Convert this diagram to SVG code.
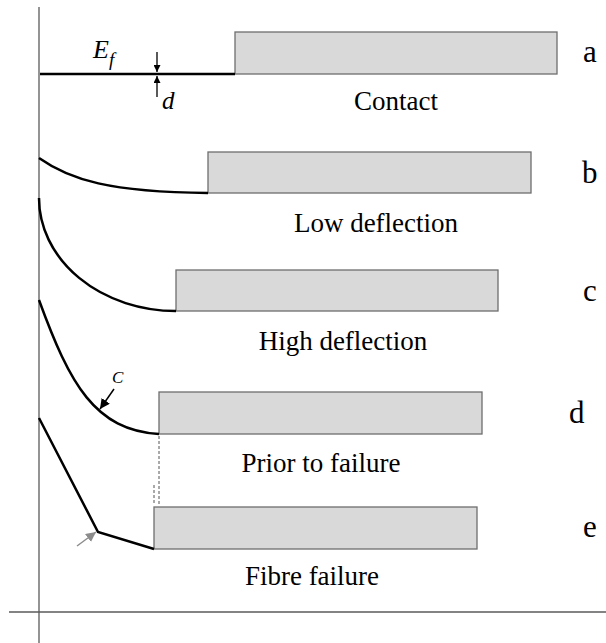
<svg xmlns="http://www.w3.org/2000/svg" width="606" height="643" viewBox="0 0 606 643">
<defs>
<marker id="ah" viewBox="0 0 10 10" refX="10" refY="5" markerWidth="7" markerHeight="7" markerUnits="userSpaceOnUse" orient="auto"><path d="M0,0 L10,5 L0,10 z" fill="#000"/></marker>
<marker id="ahb" viewBox="0 0 10 10" refX="10" refY="5" markerWidth="10" markerHeight="10" markerUnits="userSpaceOnUse" orient="auto"><path d="M0,0 L10,5 L0,10 z" fill="#000"/></marker>
<marker id="ahg" viewBox="0 0 10 10" refX="10" refY="5" markerWidth="10" markerHeight="10" markerUnits="userSpaceOnUse" orient="auto"><path d="M0,0 L10,5 L0,10 z" fill="#8c8c8c"/></marker>
</defs>
<style>
.box{fill:#d9d9d9;stroke:#6e6e6e;stroke-width:1.3}
.fib{fill:none;stroke:#000;stroke-width:2.5}
.axis{stroke:#5a5a5a;stroke-width:1.3;fill:none}
text{font-family:'Liberation Serif','Times New Roman','DejaVu Serif',serif}
.lbl{font-size:27px;fill:#000}
.tag{font-size:31px;fill:#000}
.math{font-style:italic;fill:#000}
.dash{stroke:#555;stroke-width:1;stroke-dasharray:3,2;fill:none}
</style>
<rect width="606" height="643" fill="#fff"/>
<g id="axes">
<line class="axis" x1="39" y1="7" x2="39" y2="643"/>
<line class="axis" x1="9" y1="612" x2="606" y2="612"/>
</g>
<g id="stage-a">
<rect class="box" x="235" y="32" width="322" height="42"/>
<line class="fib" x1="40" y1="74" x2="235" y2="74"/>
<text class="math" x="93" y="58" font-size="26" font-family="Liberation Serif, serif">E</text>
<text class="math" x="109" y="66" font-size="19" font-family="Liberation Serif, serif">f</text>
<text class="math" x="162" y="109" font-size="25" font-family="Liberation Serif, serif">d</text>
<text class="lbl" x="396" y="110" text-anchor="middle" font-family="Liberation Serif, serif">Contact</text>
<text class="tag" x="583" y="62" font-family="Liberation Serif, serif">a</text>
</g>
<g id="stage-b">
<rect class="box" x="208" y="152" width="323" height="41"/>
<path class="fib" d="M39,158 C70,180 110,192 208,193"/>
<text class="lbl" x="376" y="232" text-anchor="middle" font-family="Liberation Serif, serif">Low deflection</text>
<text class="tag" x="582" y="183" font-family="Liberation Serif, serif">b</text>
</g>
<g id="stage-c">
<rect class="box" x="176" y="270" width="322" height="41"/>
<path class="fib" d="M39,198 A137,113 0 0 0 176,311"/>
<text class="lbl" x="343" y="350" text-anchor="middle" font-family="Liberation Serif, serif">High deflection</text>
<text class="tag" x="583" y="301" font-family="Liberation Serif, serif">c</text>
</g>
<g id="stage-d">
<rect class="box" x="159" y="392" width="323" height="42"/>
<path class="fib" d="M39,300 C70,385 95,430 159,434"/>
<text class="math" x="112" y="383" font-size="17" font-family="Liberation Serif, serif">C</text>
<text class="lbl" x="321" y="472" text-anchor="middle" font-family="Liberation Serif, serif">Prior to failure</text>
<text class="tag" x="569" y="423" font-family="Liberation Serif, serif">d</text>
</g>
<g id="stage-e">
<rect class="box" x="154" y="507" width="323" height="42"/>
<polyline class="fib" points="39,418 98,532 154,549"/>
<text class="lbl" x="312" y="585" text-anchor="middle" font-family="Liberation Serif, serif">Fibre failure</text>
<text class="tag" x="583" y="537" font-family="Liberation Serif, serif">e</text>
</g>
<g id="connectors">
<line x1="157" y1="52" x2="157" y2="72" stroke="#000" stroke-width="1.3" marker-end="url(#ah)"/>
<line x1="157" y1="97" x2="157" y2="76" stroke="#000" stroke-width="1.3" marker-end="url(#ah)"/>
<line x1="114" y1="389" x2="100" y2="409" stroke="#000" stroke-width="1.5" marker-end="url(#ahb)"/>
<line x1="77" y1="546" x2="96" y2="532" stroke="#8c8c8c" stroke-width="1.5" marker-end="url(#ahg)"/>
<line class="dash" x1="159" y1="436" x2="159" y2="505"/>
<line class="dash" x1="154" y1="485" x2="154" y2="505"/>
</g>
</svg>
